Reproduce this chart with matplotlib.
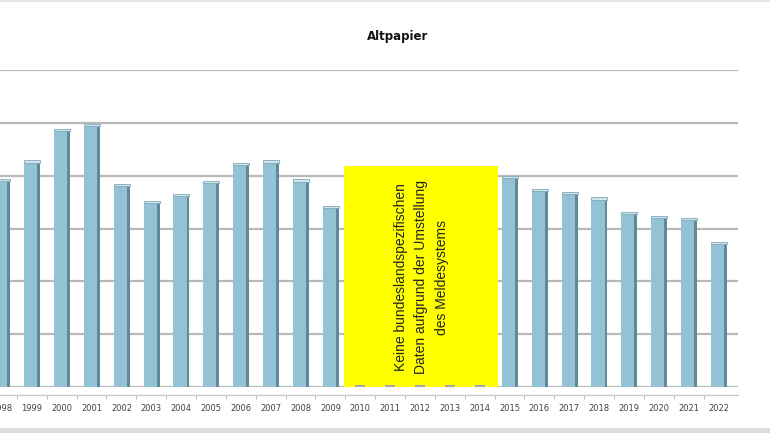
import numpy as np
import matplotlib
matplotlib.use("Agg")
import matplotlib.pyplot as plt
from matplotlib.patches import Rectangle

# values (in gridline steps, y labels are cropped in the source)
years = list(range(1998, 2023))
values = [3.92, 4.27, 4.87, 4.96, 3.83, 3.50, 3.63, 3.89, 4.22, 4.27, 3.91, 3.41,
          None, None, None, None, None,
          3.97, 3.73, 3.68, 3.57, 3.30, 3.22, 3.18, 2.72]
note = "Keine bundeslandspezifischen\nDaten aufgrund der Umstellung\ndes Meldesystems"
gap_years = (2010, 2014)
gap_top = 4.19

front = "#93c2d4"
side = "#5e8a99"
cap = "#cfe6ee"

fig = plt.figure(figsize=(7.7, 4.33), dpi=100)
ax = fig.add_axes([0.0, 0.106, 0.958, 0.732])

x = np.arange(len(years))
h = np.array([np.nan if v is None else v for v in values])
ok = ~np.isnan(h)

ax.bar(x[ok] - 0.04, h[ok], width=0.44, color=front, zorder=3, linewidth=0)
ax.bar(x[ok] + 0.23, h[ok], width=0.10, color=side, zorder=3, linewidth=0)
ax.bar(x[ok] + 0.01, 0.04, bottom=h[ok] - 0.02, width=0.54, color=cap, zorder=4,
       linewidth=0.6, edgecolor="#7fa7b6")

# flat dashes for missing years
ax.plot(x[~ok], np.zeros((~ok).sum()) + 0.02, ls="none", marker="_",
        ms=7, mew=1.5, color="#a8a8a8", zorder=4)

# yellow note box
i0 = years.index(gap_years[0])
i1 = years.index(gap_years[1])
ax.add_patch(Rectangle((i0 - 0.55, 0), (i1 - i0) + 1.15, gap_top,
                       facecolor="#ffff00", edgecolor="none", zorder=2))
ax.text((i0 + i1) / 2 + 0.05, 2.08, note, rotation=90, ha="center", va="center",
        fontsize=10, color="#222222", linespacing=1.55, zorder=5,
        family="Liberation Sans")

ax.set_xlim(-0.067, 24.64)
ax.set_ylim(0, 6)
ax.set_yticks(np.arange(0, 7, 1))
ax.set_yticklabels([])
ax.tick_params(axis="y", length=0)
ax.grid(axis="y", color="#b8b8b8", linewidth=1.6, zorder=0)

ax.set_xticks(x)
ax.set_xticklabels([str(y) for y in years])
ax.set_xticks(x[:-1] + 0.5, minor=True)
ax.tick_params(axis="x", which="major", length=0, pad=6, labelsize=6,
               labelcolor="#444444")
ax.tick_params(axis="x", which="minor", length=3, color="#b0b0b0", direction="out")
for lbl in ax.get_xticklabels():
    lbl.set_family("Liberation Sans")

for s in ["top", "right", "left"]:
    ax.spines[s].set_visible(False)
ax.spines["bottom"].set_position(("outward", 6))
ax.spines["bottom"].set_color("#c8c8c8")
ax.spines["bottom"].set_linewidth(1.0)

fig.text(0.516, 0.915, "Altpapier", ha="center", va="center",
         fontsize=8.5, fontweight="bold", color="#111111")

# thin grey frame bands at top and bottom of the screenshot
fig.patches.append(Rectangle((0, 0.995), 1, 0.005, transform=fig.transFigure,
                             facecolor="#e6e6e6", edgecolor="none"))
fig.patches.append(Rectangle((0, 0), 1, 0.012, transform=fig.transFigure,
                             facecolor="#dcdcdc", edgecolor="none"))

fig.savefig("out.png", dpi=100)
